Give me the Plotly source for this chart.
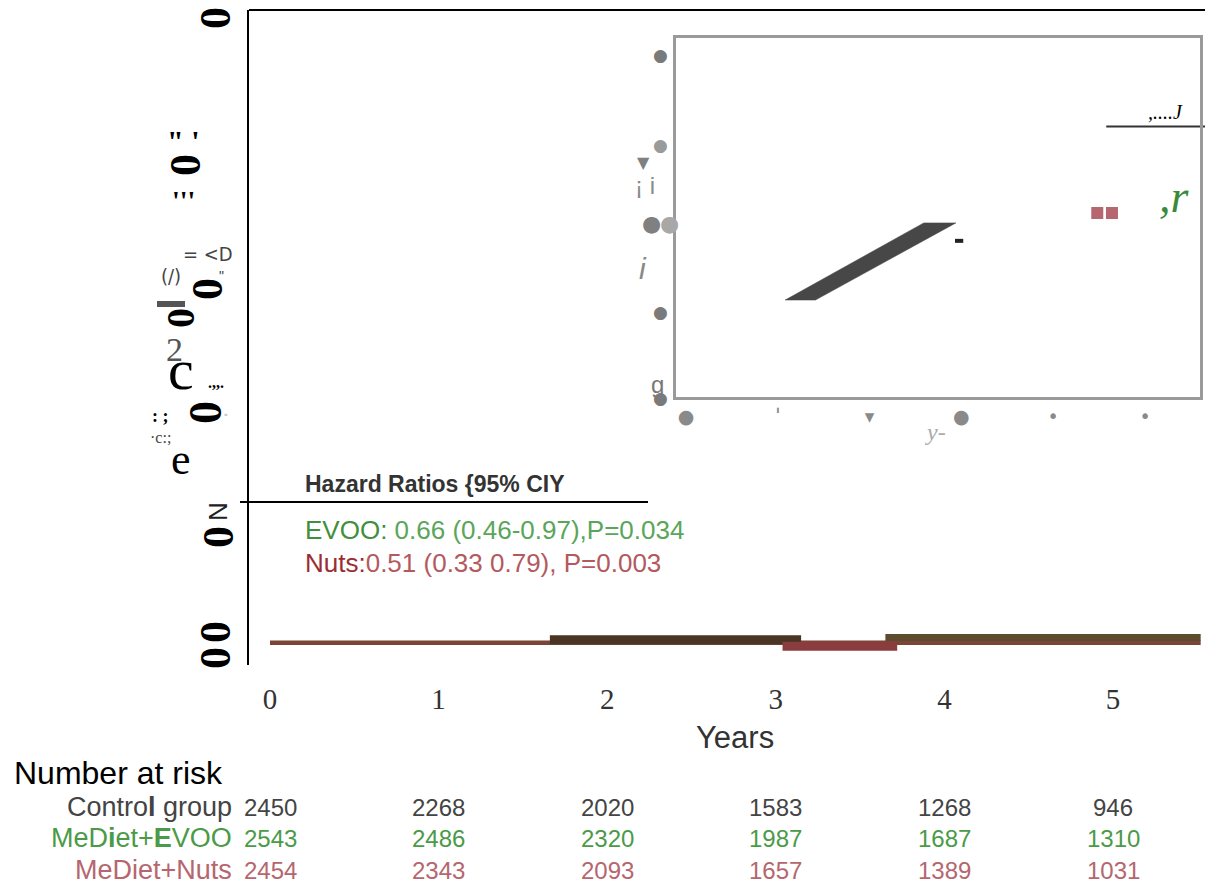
import plotly.graph_objects as go

W, H = 1213, 888
OFF = 8  # page body margin of the html file

# ---------------- data ----------------
years = [0, 1, 2, 3, 4, 5]
year_labels = ["0", "1", "2", "3", "4", "5"]

# cumulative-incidence step segments (years, % scale)
baseline_x = [0.0, 5.52]
baseline_y = [0.0, 0.0]
control_x = [1.66, 3.15]
control_y = [0.05, 0.05]
nuts_x = [3.04, 3.72]
nuts_y = [-0.055, -0.055]
evoo_x = [3.65, 5.52]
evoo_y = [0.085, 0.085]
corner_x = [4.96, 5.60]
corner_y = [8.16, 8.16]

# inset marks
inset_ticks = [0, 1, 2, 3, 4, 5]
inset_ticktext = ["●", "<b>ˈ</b>", "▾", "●", "•", "•"]
band_x = [1.08, 1.41, 2.94, 2.59, 1.08]
band_y = [0.27, 0.27, 0.485, 0.485, 0.27]
dash_x = [2.93, 3.02]
dash_y = [0.435, 0.435]
square_x = [4.48, 4.64]
square_y = [0.5125, 0.5125]

# number at risk
risk_groups = ["Contro<b>l</b> group", "MeD<b>i</b>et+<b>E</b>VOO", "MeDiet+Nuts"]
risk_control = [2450, 2268, 2020, 1583, 1268, 946]
risk_evoo = [2543, 2486, 2320, 1987, 1687, 1310]
risk_nuts = [2454, 2343, 2093, 1657, 1389, 1031]

hr_title = "Hazard Ratios {95% CIY"
hr_evoo_head, hr_evoo_rest = "EVOO:", " 0.66 (0.46-0.97),P=0.034"
hr_nuts_head, hr_nuts_rest = "Nuts:", "0.51 (0.33 0.79), P=0.003"

# ---------------- styles ----------------
SANS = "Liberation Sans, Arial, sans-serif"
SERIF = "Liberation Serif, Times New Roman, serif"
GREEN = "#4a9a48"
PINK = "#b5666e"
RED = "#a4434a"


def px(x):
    return (x - OFF) / W


def py(y):
    return 1 - (y - OFF) / H


fig = go.Figure()

# main curves
fig.add_trace(go.Scatter(x=baseline_x, y=baseline_y, mode="lines",
                         line=dict(color="#7a4536", width=4.5), hoverinfo="skip"))
fig.add_trace(go.Scatter(x=control_x, y=control_y, mode="lines",
                         line=dict(color="#4a3524", width=9), hoverinfo="skip"))
fig.add_trace(go.Scatter(x=evoo_x, y=evoo_y, mode="lines",
                         line=dict(color="#5e4a2c", width=7), hoverinfo="skip"))
fig.add_trace(go.Scatter(x=nuts_x, y=nuts_y, mode="lines",
                         line=dict(color="#8b3c3e", width=9), hoverinfo="skip"))
fig.add_trace(go.Scatter(x=corner_x, y=corner_y, mode="lines",
                         line=dict(color="#333333", width=2), hoverinfo="skip"))

# inset
fig.add_trace(go.Scatter(x=band_x, y=band_y, mode="lines", fill="toself",
                         fillcolor="#474747", line=dict(color="#474747", width=0.5),
                         xaxis="x2", yaxis="y2", hoverinfo="skip"))
fig.add_trace(go.Scatter(x=dash_x, y=dash_y, mode="lines",
                         line=dict(color="#222222", width=4),
                         xaxis="x2", yaxis="y2", hoverinfo="skip"))
fig.add_trace(go.Scatter(x=square_x, y=square_y, mode="markers",
                         marker=dict(symbol="square", size=12, color=PINK),
                         xaxis="x2", yaxis="y2", hoverinfo="skip"))

x0 = 270.0
ppy = 168.6
xmin = (249 - x0) / ppy
xmax = (1208 - x0) / ppy

fig.update_layout(
    width=W, height=H,
    margin=dict(l=0, r=0, t=0, b=0),
    paper_bgcolor="white", plot_bgcolor="rgba(0,0,0,0)",
    showlegend=False,
    xaxis=dict(domain=[px(249), px(1208)], range=[xmin, xmax],
               tickvals=years, ticktext=year_labels, showgrid=False,
               zeroline=False, showline=False, ticks="",
               ticklabelstandoff=14,
               tickfont=dict(family=SERIF, size=29, color="#333333")),
    yaxis=dict(domain=[py(665), py(10)], range=[-0.35, 10.0],
               showgrid=False, zeroline=False, showline=True,
               linecolor="black", linewidth=2, showticklabels=False, ticks=""),
    xaxis2=dict(domain=[px(676), px(1200)], range=[(676 - 686) / 91.8, (1200 - 686) / 91.8],
                anchor="y2", showgrid=False, zeroline=False, showline=True, mirror=True,
                linecolor="#9a9a9a", linewidth=3, ticks="",
                tickvals=inset_ticks, ticktext=inset_ticktext,
                tickfont=dict(family="DejaVu Sans", size=19, color="#8a8a8a")),
    yaxis2=dict(domain=[py(397), py(38)], range=[0, 1], anchor="x2",
                showgrid=False, zeroline=False, showline=True, mirror=True,
                linecolor="#9a9a9a", linewidth=3, showticklabels=False, ticks=""),
)

shapes = [
    dict(type="line", xref="paper", yref="paper", x0=px(249), x1=px(1211), y0=py(10), y1=py(10),
         line=dict(color="black", width=2)),
    dict(type="line", xref="paper", yref="paper", x0=px(1208), x1=px(1208), y0=py(0), y1=py(35),
         line=dict(color="black", width=2)),
    dict(type="line", xref="paper", yref="paper", x0=px(1208), x1=px(1208), y0=py(410), y1=py(652),
         line=dict(color="black", width=2)),
    dict(type="line", xref="paper", yref="paper", x0=px(240), x1=px(648), y0=py(502), y1=py(502),
         line=dict(color="black", width=2)),
    dict(type="line", xref="paper", yref="paper", x0=px(157), x1=px(185), y0=py(304), y1=py(304),
         line=dict(color="#555555", width=6)),
]
fig.update_layout(shapes=shapes)

ann = []


def text(x, y, s, size, color="black", family=SANS, xanchor="center", angle=0, bold=False,
         italic=False):
    if bold:
        s = "<b>" + s + "</b>"
    if italic:
        s = "<i>" + s + "</i>"
    ann.append(dict(x=px(x), y=py(y), xref="paper", yref="paper", text=s, showarrow=False,
                    xanchor=xanchor, yanchor="middle", textangle=angle,
                    font=dict(family=family, size=size, color=color)))


# garbled y-axis labels
text(216, 18, "0", 44, family=SERIF, angle=-90, bold=True)
text(183, 140, "\" '", 30, family=SERIF, bold=True)
text(185, 165, "0", 44, family=SERIF, angle=-90, bold=True)
text(183, 200, "'''", 28, family=SERIF, bold=True)
text(208, 254, "= <D", 20, color="#444444", family="DejaVu Sans Condensed, DejaVu Sans")
text(171, 276, "(/)", 20, color="#444444", family="DejaVu Sans Condensed, DejaVu Sans")
text(208, 289, "0", 44, family=SERIF, angle=-90, bold=True)
text(221, 276, "\"", 14, color="#444444")
text(180, 318, "0", 40, family=SERIF, angle=-90, bold=True)
text(174, 350, "2", 34, color="#555555", family=SERIF)
text(181, 370, "c", 58, family=SERIF)
text(216, 382, ".,,.", 16, family=SERIF, bold=True)
text(160, 416, ": ;", 18, family=SERIF, bold=True)
text(205, 413, "0", 46, family=SERIF, angle=-90, bold=True)
text(226, 415, "◦", 10, color="#666666")
text(160, 437, "·c:;", 16, color="#444444", family=SERIF)
text(181, 459, "e", 44, family=SERIF)
text(218, 512, "N", 26, angle=-90, color="#222222")
text(218, 537, "0", 44, family=SERIF, angle=-90, bold=True)
text(215, 632, "0", 44, family=SERIF, angle=-90, bold=True)
text(215, 658, "0", 44, family=SERIF, angle=-90, bold=True)

# inset left labels
text(660, 55, "●", 17, color="#7a7a7a", family="DejaVu Sans")
text(660, 145, "●", 17, color="#9a9a9a", family="DejaVu Sans")
text(643, 162, "▼", 16, color="#808080", family="DejaVu Sans")
text(645, 185, "¡ i", 24, color="#8a8a8a")
text(651, 223, "●", 22, color="#808080", family="DejaVu Sans")
text(669, 223, "●", 22, color="#a8a8a8", family="DejaVu Sans")
text(643, 268, "i", 30, color="#888888", italic=True)
text(660, 312, "●", 17, color="#7a7a7a", family="DejaVu Sans")
text(657, 385, "g", 24, color="#777777")
text(660, 398, "●", 17, color="#7a7a7a", family="DejaVu Sans")
text(935, 432, "y-", 24, color="#aaaaaa", family=SERIF, italic=True)
text(1165, 112, ",....J", 20, family=SERIF, italic=True)
text(1174, 196, ",r", 46, color="#3a8a3a", family=SERIF, italic=True)

# hazard ratio box
text(303, 484, hr_title, 23, color="#333333", xanchor="left", bold=True)
text(303, 530, "<span style='color:#3f8f3c'>" + hr_evoo_head + "</span>"
     "<span style='color:#5aa55a'>" + hr_evoo_rest + "</span>", 26, color=GREEN, xanchor="left")
text(303, 563, "<span style='color:#9b2c33'>" + hr_nuts_head + "</span>"
     "<span style='color:#b35a60'>" + hr_nuts_rest + "</span>", 26, color=RED, xanchor="left")

# x title
text(735, 737, "Years", 31, color="#333333")

# number at risk
text(12, 773, "Number at risk", 32, color="black", xanchor="left")
row_y = [807, 838, 870]
row_colors = ["#444444", GREEN, PINK]
row_values = [risk_control, risk_evoo, risk_nuts]
for g, yy, c, vals in zip(risk_groups, row_y, row_colors, row_values):
    text(234, yy, g, 27, color=c, xanchor="right")
    for yr, v in zip(years, vals):
        ann.append(dict(x=yr, y=py(yy), xref="x", yref="paper", text=str(v), showarrow=False,
                        xanchor="center", yanchor="middle",
                        font=dict(family=SANS, size=24, color=c)))

fig.update_layout(annotations=ann)
fig.write_html("out.html")
